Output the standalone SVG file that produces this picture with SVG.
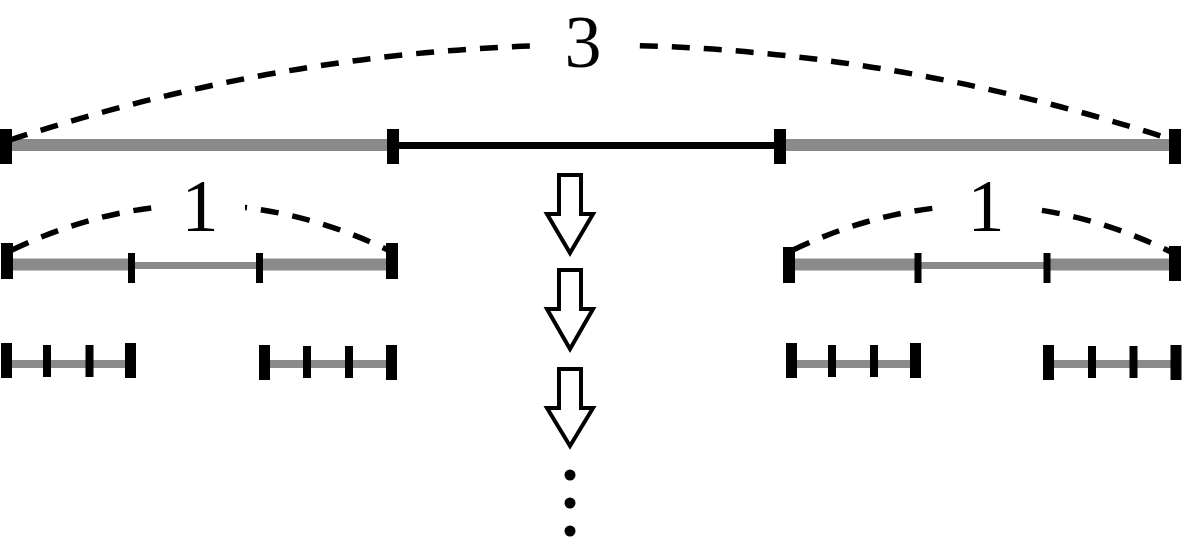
<svg xmlns="http://www.w3.org/2000/svg" width="1183" height="549" viewBox="0 0 1183 549">
<style>
.g{stroke:#8a8a8c;fill:none}
.tk{stroke:#000;fill:none}
.arc{stroke:#000;stroke-width:5.5;fill:none;stroke-dasharray:18 14}
.num{font-family:"Liberation Serif","DejaVu Serif",serif;font-size:74px;fill:#000;text-anchor:middle}
.arr{fill:#fff;stroke:#000;stroke-width:4;stroke-linejoin:miter}
</style>
<defs>
<mask id="gaps" maskUnits="userSpaceOnUse" x="0" y="0" width="1183" height="549">
<rect x="0" y="0" width="1183" height="549" fill="#fff"/>
<rect x="540" y="0" width="93" height="90" fill="#000"/>
<rect x="160" y="170" width="85" height="70" fill="#000"/>
<rect x="946" y="170" width="84" height="70" fill="#000"/>
</mask>
</defs>
<rect width="1183" height="549" fill="#fff"/>

<g id="level0">
<line class="g" x1="6" y1="145" x2="393" y2="145" stroke-width="12"/>
<line class="g" x1="780" y1="145" x2="1175" y2="145" stroke-width="12"/>
<line x1="393" y1="145.5" x2="780" y2="145.5" stroke="#000" stroke-width="7"/>
<g class="tk" stroke-width="12">
<line x1="6" y1="129" x2="6" y2="164"/>
<line x1="393" y1="129" x2="393" y2="164"/>
<line x1="780" y1="129" x2="780" y2="164"/>
<line x1="1175" y1="129" x2="1175" y2="164"/>
</g>
</g>

<g id="level1-left">
<line class="g" x1="6" y1="264.5" x2="131" y2="264.5" stroke-width="12"/>
<line class="g" x1="131" y1="265.5" x2="260" y2="265.5" stroke-width="7"/>
<line class="g" x1="260" y1="264.5" x2="392" y2="264.5" stroke-width="12"/>
<g class="tk">
<line x1="7" y1="243" x2="7" y2="279" stroke-width="12"/>
<line x1="131.5" y1="253" x2="131.5" y2="283" stroke-width="7"/>
<line x1="259.5" y1="253" x2="259.5" y2="283" stroke-width="7"/>
<line x1="392" y1="243" x2="392" y2="279" stroke-width="12"/>
</g>
</g>

<g id="level1-right">
<line class="g" x1="789" y1="264.5" x2="918" y2="264.5" stroke-width="12"/>
<line class="g" x1="918" y1="265.5" x2="1047" y2="265.5" stroke-width="7"/>
<line class="g" x1="1047" y1="264.5" x2="1175" y2="264.5" stroke-width="12"/>
<g class="tk">
<line x1="789" y1="247" x2="789" y2="283" stroke-width="12"/>
<line x1="918" y1="253" x2="918" y2="283" stroke-width="7"/>
<line x1="1047" y1="253" x2="1047" y2="283" stroke-width="7"/>
<line x1="1175" y1="246" x2="1175" y2="281" stroke-width="12"/>
</g>
</g>

<g id="level2">
<g class="g" stroke-width="8">
<line x1="6" y1="364" x2="130" y2="364"/>
<line x1="264" y1="364" x2="391" y2="364"/>
<line x1="791" y1="364" x2="915" y2="364"/>
<line x1="1048" y1="364" x2="1176" y2="364"/>
</g>
<g class="tk" stroke-width="11">
<line x1="6.5" y1="343" x2="6.5" y2="378"/>
<line x1="130.5" y1="343" x2="130.5" y2="378"/>
<line x1="264.5" y1="345" x2="264.5" y2="380"/>
<line x1="391.5" y1="345" x2="391.5" y2="380"/>
<line x1="791.5" y1="343" x2="791.5" y2="378"/>
<line x1="915.5" y1="343" x2="915.5" y2="378"/>
<line x1="1048.5" y1="345" x2="1048.5" y2="380"/>
<line x1="1176" y1="345" x2="1176" y2="380"/>
</g>
<g class="tk" stroke-width="8">
<line x1="47" y1="345" x2="47" y2="377"/>
<line x1="89.5" y1="345" x2="89.5" y2="377"/>
<line x1="307" y1="346" x2="307" y2="378"/>
<line x1="349" y1="346" x2="349" y2="378"/>
<line x1="832" y1="345" x2="832" y2="377"/>
<line x1="874" y1="345" x2="874" y2="377"/>
<line x1="1092" y1="346" x2="1092" y2="378"/>
<line x1="1133.5" y1="346" x2="1133.5" y2="378"/>
</g>
</g>

<g id="connectors">
<g mask="url(#gaps)">
<path class="arc" d="M10,140 Q591,-50 1173,140"/>
<path class="arc" d="M12,250 Q200,160 388,250"/>
<path class="arc" d="M793,250 Q982,160 1171,252"/>
</g>
<polygon class="arr" points="559,175 581,175 581,214 593,214 570,253 547,214 559,214"/>
<polygon class="arr" points="559,270 581,270 581,309 593,309 570,349 547,309 559,309"/>
<polygon class="arr" points="559,369 581,369 581,408 593,408 570,446 547,408 559,408"/>
<circle cx="570" cy="475" r="5.5"/>
<circle cx="570" cy="503" r="5.5"/>
<circle cx="570" cy="531" r="5.5"/>
</g>

<g id="labels">
<text class="num" x="583" y="67">3</text>
<text class="num" x="200" y="231">1</text>
<text class="num" x="986" y="231">1</text>
</g>
</svg>
